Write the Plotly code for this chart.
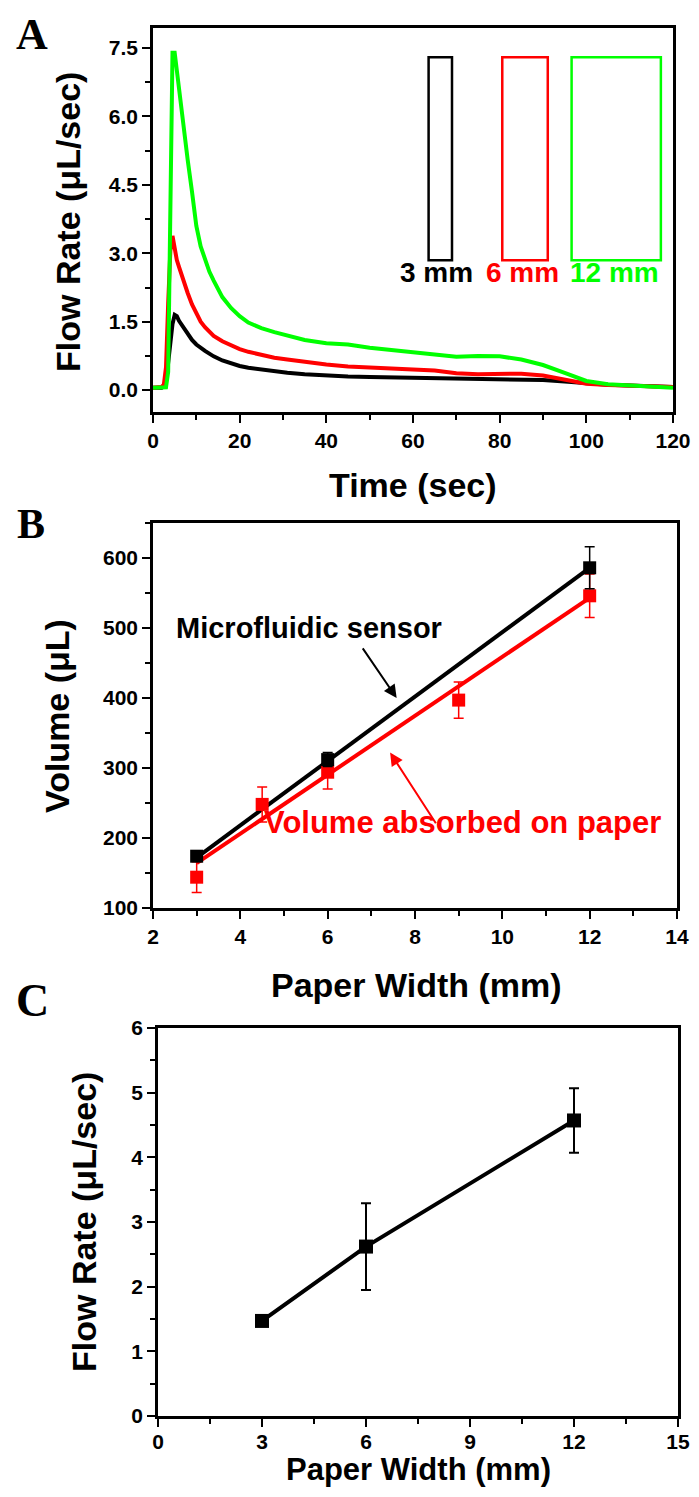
import plotly.graph_objects as go

# page body has an 8px margin: keep the figure inside the 699x1497 window
OFF = 8
W, H = 699 - 2 * OFF, 1497 - 2 * OFF


def px(x):
    return (x - OFF) / W


def py(y):
    return 1 - (y - OFF) / H


# ---------------- Panel A data ----------------
time_s = [0, 1, 2, 2.5, 3, 3.5, 4, 4.5, 5, 5.5, 6, 7, 8, 9, 10, 11, 12, 13, 14, 16, 18, 20, 22,
          25, 28, 31, 35, 40, 45, 50, 55, 60, 65, 70, 75, 80, 85, 90, 95, 100, 105, 110, 115, 120]
flow_3mm = [0.05, 0.05, 0.05, 0.08, 0.25, 0.6, 1.05, 1.45, 1.65, 1.62, 1.52, 1.38, 1.25, 1.1, 1.0,
            0.92, 0.86, 0.8, 0.74, 0.65, 0.58, 0.53, 0.49, 0.45, 0.41, 0.38, 0.35, 0.32, 0.30,
            0.29, 0.28, 0.27, 0.26, 0.25, 0.25, 0.25, 0.24, 0.22, 0.19, 0.15, 0.12, 0.10, 0.08, 0.07]
flow_6mm = [0.05, 0.05, 0.07, 0.12, 0.5, 1.9, 3.05, 3.38, 3.05, 2.85, 2.7, 2.4, 2.13, 1.88, 1.68,
            1.5, 1.38, 1.28, 1.19, 1.07, 0.98, 0.9, 0.84, 0.77, 0.71, 0.67, 0.62, 0.56, 0.52, 0.49,
            0.47, 0.45, 0.43, 0.37, 0.35, 0.35, 0.36, 0.32, 0.22, 0.14, 0.11, 0.09, 0.08, 0.07]
flow_12mm = [0.05, 0.05, 0.05, 0.05, 0.06, 0.4, 4.0, 7.4, 7.4, 7.0, 6.55, 5.8, 5.05, 4.35, 3.6,
             3.15, 2.84, 2.6, 2.4, 2.04, 1.8, 1.62, 1.48, 1.36, 1.27, 1.19, 1.1, 1.03, 1.0,
             0.93, 0.88, 0.84, 0.8, 0.73, 0.75, 0.74, 0.67, 0.55, 0.38, 0.2, 0.13, 0.1, 0.07, 0.05]
series_a_names = ["3 mm", "6 mm", "12 mm"]
series_a_colors = ["#000000", "#FF0000", "#00FF00"]

# ---------------- Panel B data ----------------
width_sensor = [3, 6, 12]
vol_sensor = [174, 312, 586]
vol_sensor_err = [6, 10, 30]
width_paper = [3, 4.5, 6, 9, 12]
vol_paper = [144, 248, 294, 397, 546]
vol_paper_err = [22, 25, 24, 26, 31]
fit_x = [3, 12]
fit_sensor = [172, 586]
fit_paper = [164, 543]

# ---------------- Panel C data ----------------
width_c = [3, 6, 12]
flow_c = [1.47, 2.62, 4.57]
flow_c_err = [0.04, 0.67, 0.5]

FONT = "Arial, Liberation Sans, sans-serif"
SERIF = "Times New Roman, Liberation Serif, serif"

fig = go.Figure()

for ys, c in zip([flow_3mm, flow_6mm, flow_12mm], series_a_colors):
    fig.add_trace(go.Scatter(x=time_s, y=ys, mode="lines", line=dict(color=c, width=4),
                             xaxis="x", yaxis="y", showlegend=False))

fig.add_trace(go.Scatter(x=fit_x, y=fit_sensor, mode="lines", line=dict(color="black", width=4),
                         xaxis="x2", yaxis="y2", showlegend=False))
fig.add_trace(go.Scatter(x=fit_x, y=fit_paper, mode="lines", line=dict(color="#FF0000", width=4),
                         xaxis="x2", yaxis="y2", showlegend=False))
fig.add_trace(go.Scatter(x=width_paper, y=vol_paper, mode="markers",
                         marker=dict(symbol="square", size=13, color="#FF0000"),
                         error_y=dict(type="data", array=vol_paper_err, color="#FF0000",
                                      thickness=1.5, width=5),
                         xaxis="x2", yaxis="y2", showlegend=False))
fig.add_trace(go.Scatter(x=width_sensor, y=vol_sensor, mode="markers",
                         marker=dict(symbol="square", size=13, color="black"),
                         error_y=dict(type="data", array=vol_sensor_err, color="black",
                                      thickness=1.5, width=5),
                         xaxis="x2", yaxis="y2", showlegend=False))

fig.add_trace(go.Scatter(x=width_c, y=flow_c, mode="lines+markers",
                         line=dict(color="black", width=4),
                         marker=dict(symbol="square", size=14, color="black"),
                         error_y=dict(type="data", array=flow_c_err, color="black",
                                      thickness=2, width=5),
                         xaxis="x3", yaxis="y3", showlegend=False))

tickfont = dict(family=FONT, size=21, color="black", weight="bold")


def axis(domain, rng, dtick, minor_dtick, anchor, fmt=None, standoff=None):
    d = dict(domain=domain, range=rng, dtick=dtick, tick0=0, anchor=anchor,
             automargin=False, ticklabeloverflow="allow",
             showline=True, linecolor="black", linewidth=2.5, mirror=True,
             ticks="outside", ticklen=8, tickwidth=2, tickcolor="black",
             showgrid=False, zeroline=False, tickfont=tickfont,
             minor=dict(dtick=minor_dtick, ticks="outside", ticklen=5, tickwidth=2,
                        tickcolor="black", showgrid=False))
    if fmt:
        d["tickformat"] = fmt
    if standoff is not None:
        d["ticklabelstandoff"] = standoff
    return d


fig.update_layout(
    width=W, height=H, margin=dict(l=0, r=0, t=0, b=0, autoexpand=False),
    paper_bgcolor="white", plot_bgcolor="white", showlegend=False,
    xaxis=axis([px(153), px(673)], [0, 120], 20, 10, "y"),
    yaxis=axis([py(412), py(28)], [-0.48, 7.94], 1.5, 0.75, "x", ".1f"),
    xaxis2=axis([px(153), px(677)], [2, 14], 2, 1, "y2"),
    yaxis2=axis([py(908), py(523)], [100, 650], 100, 50, "x2"),
    xaxis3=axis([px(158), px(678)], [0, 15], 3, 1.5, "y3", standoff=-3),
    yaxis3=axis([py(1416), py(1028)], [0, 6], 1, 0.5, "x3"),
)

# legend-like paper strips in panel A
strip_x = [(63.6, 69.0), (80.6, 91.1), (96.6, 117.2)]
for (x0, x1), c in zip(strip_x, series_a_colors):
    fig.add_shape(type="rect", xref="x", yref="y", x0=x0, x1=x1, y0=2.85, y1=7.3,
                  line=dict(color=c, width=2.5), fillcolor="rgba(0,0,0,0)")
label_x = [65.5, 85.2, 106.5]
for name, xx, c in zip(series_a_names, label_x, series_a_colors):
    fig.add_annotation(x=xx, y=2.57, xref="x", yref="y", text=name, showarrow=False,
                       xanchor="center", yanchor="middle",
                       font=dict(family=FONT, size=28, color=c, weight="bold"))

title_font = dict(family=FONT, size=34, color="black", weight="bold")


def paper_text(x, y, text, font, angle=0, yanchor="middle"):
    fig.add_annotation(x=px(x), y=py(y), xref="paper", yref="paper", text=text,
                       textangle=angle, showarrow=False, xanchor="center", yanchor=yanchor,
                       font=font)


# panel letters
paper_text(32, OFF, "A", dict(family=SERIF, size=44, color="black", weight="bold"), yanchor="top")
paper_text(31, 524, "B", dict(family=SERIF, size=42, color="black", weight="bold"))
paper_text(32, 1000, "C", dict(family=SERIF, size=46, color="black", weight="bold"))

# axis titles
paper_text(68, 222, "Flow Rate (μL/sec)", title_font, -90)
paper_text(413, 485, "Time (sec)", title_font)
paper_text(57, 716, "Volume (μL)", title_font, -90)
paper_text(416, 985, "Paper Width (mm)", title_font)
paper_text(84, 1222, "Flow Rate (μL/sec)", title_font, -90)
paper_text(418, 1497 - OFF, "Paper Width (mm)", dict(title_font, size=31), yanchor="bottom")

# panel B labels & arrows
fig.add_annotation(x=5.58, y=500, xref="x2", yref="y2", text="Microfluidic sensor",
                   showarrow=False, xanchor="center", yanchor="middle",
                   font=dict(family=FONT, size=29, color="black", weight="bold"))
fig.add_annotation(x=9.09, y=222, xref="x2", yref="y2", text="Volume absorbed on paper",
                   showarrow=False, xanchor="center", yanchor="middle",
                   font=dict(family=FONT, size=31, color="#FF0000", weight="bold"))
fig.add_annotation(x=7.58, y=400, ax=6.78, ay=473, xref="x2", yref="y2", axref="x2", ayref="y2",
                   text="", showarrow=True, arrowhead=2, arrowsize=1.3, arrowwidth=2,
                   arrowcolor="black")
fig.add_annotation(x=7.43, y=322, ax=8.5, ay=219, xref="x2", yref="y2", axref="x2", ayref="y2",
                   text="", showarrow=True, arrowhead=2, arrowsize=1.3, arrowwidth=2,
                   arrowcolor="#FF0000")

fig.write_html("out.html")
